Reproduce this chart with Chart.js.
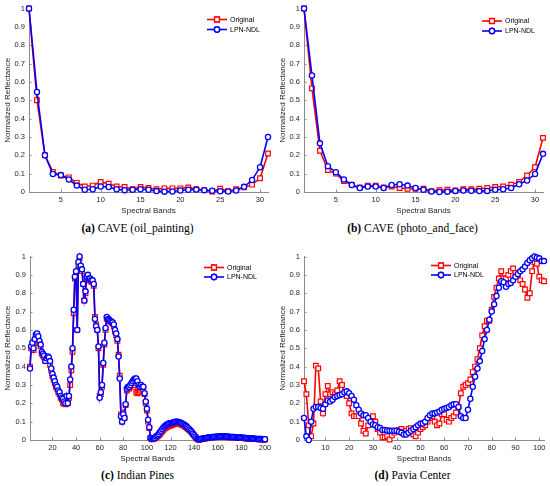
<!DOCTYPE html>
<html>
<head>
<meta charset="utf-8">
<script src="https://cdn.jsdelivr.net/npm/chart.js@4.4.1/dist/chart.umd.min.js"></script>
<style>
  html, body { margin: 0; padding: 0; background: #fff; }
  body { width: 550px; height: 486px; position: relative; overflow: hidden; }
  .panel { position: absolute; width: 275px; height: 220px; }
  .caption {
    position: absolute; width: 275px; text-align: center;
    font-family: "Liberation Serif", "Times New Roman", serif;
    font-size: 11.5px; line-height: 13px; color: #000;
  }
</style>
</head>
<body>
<div class="panel" style="left:0;top:0"><canvas id="chartA" width="275" height="220"></canvas></div>
<div class="panel" style="left:275px;top:0"><canvas id="chartB" width="275" height="220"></canvas></div>
<div class="panel" style="left:0;top:248px"><canvas id="chartC" width="275" height="220"></canvas></div>
<div class="panel" style="left:275px;top:248px"><canvas id="chartD" width="275" height="220"></canvas></div>

<div class="caption" style="left:0;top:222px"><b>(a)</b> CAVE (oil_painting)</div>
<div class="caption" style="left:275px;top:222px"><b>(b)</b> CAVE (photo_and_face)</div>
<div class="caption" style="left:0;top:469px"><b>(c)</b> Indian Pines</div>
<div class="caption" style="left:275px;top:469px"><b>(d)</b> Pavia Center</div>

<script>
// ---- data ----
const seriesNames = ['Original', 'LPN-NDL'];

const yTicks = [0, 0.1, 0.2, 0.3, 0.4, 0.5, 0.6, 0.7, 0.8, 0.9, 1];
const xTicksCave = [5, 10, 15, 20, 25, 30];
const xTicksIndian = [20, 40, 60, 80, 100, 120, 140, 160, 180, 200];
const xTicksPavia = [10, 20, 30, 40, 50, 60, 70, 80, 90, 100];

// (a) CAVE oil_painting, 31 bands
const oilOriginal = [1.0, 0.50, 0.20, 0.11, 0.09, 0.08, 0.05, 0.03, 0.035, 0.055,
  0.045, 0.03, 0.028, 0.015, 0.028, 0.022, 0.015, 0.02, 0.02, 0.02,
  0.025, 0.015, 0.01, 0.003, 0.018, 0.005, 0.015, 0.025, 0.04, 0.075, 0.21];
const oilLpn = [1.0, 0.545, 0.20, 0.098, 0.092, 0.068, 0.035, 0.012, 0.015, 0.03,
  0.027, 0.015, 0.01, 0.012, 0.015, 0.012, 0.005, 0.002, 0.003, 0.008,
  0.012, 0.013, 0.01, 0.007, 0.004, 0.003, 0.008, 0.028, 0.065, 0.135, 0.30];

// (b) CAVE photo_and_face, 31 bands
const photoOriginal = [1.0, 0.565, 0.225, 0.12, 0.10, 0.06, 0.04, 0.025, 0.035, 0.035,
  0.025, 0.03, 0.022, 0.018, 0.018, 0.018, 0.005, 0.01, 0.012, 0.008,
  0.015, 0.015, 0.018, 0.022, 0.028, 0.03, 0.04, 0.055, 0.09, 0.135, 0.295];
const photoLpn = [1.0, 0.635, 0.265, 0.14, 0.108, 0.068, 0.038, 0.022, 0.03, 0.03,
  0.022, 0.038, 0.042, 0.035, 0.022, 0.012, 0.003, 0.0, 0.002, 0.006,
  0.008, 0.007, 0.005, 0.006, 0.012, 0.015, 0.022, 0.042, 0.063, 0.098, 0.208];

// (c) Indian Pines, 200 bands
const indianOriginal = [
  0.40, 0.50, 0.52, 0.49, 0.54, 0.57, 0.56, 0.53, 0.53, 0.51,
  0.47, 0.46, 0.45, 0.43, 0.44, 0.45, 0.44, 0.41, 0.38, 0.35,
  0.33, 0.31, 0.29, 0.28, 0.26, 0.25, 0.23, 0.22, 0.20, 0.20,
  0.195, 0.23, 0.20, 0.23, 0.30, 0.38, 0.48, 0.69, 0.88, 0.91,
  0.60, 0.95, 0.99, 0.94, 0.92, 0.85, 0.76, 0.80, 0.88, 0.89,
  0.87, 0.87, 0.86, 0.86, 0.84, 0.67, 0.63, 0.60, 0.50, 0.24,
  0.25, 0.29, 0.41, 0.52, 0.60, 0.66, 0.66, 0.65, 0.645, 0.64,
  0.635, 0.62, 0.59, 0.57, 0.54, 0.465, 0.35, 0.14, 0.10, 0.15,
  0.12, 0.19, 0.27, 0.28, 0.28, 0.29, 0.30, 0.31, 0.30, 0.31,
  0.26, 0.255, 0.26, 0.27, 0.28, 0.28, 0.275, 0.25, 0.20, 0.16,
  0.10, 0.065, 0.01, 0.004, 0.008, 0.006, 0.01, 0.015, 0.02, 0.026,
  0.033, 0.04, 0.048, 0.055, 0.062, 0.067, 0.071, 0.074, 0.076, 0.078,
  0.081, 0.084, 0.087, 0.089, 0.09, 0.09, 0.089, 0.087, 0.084, 0.081,
  0.078, 0.074, 0.07, 0.065, 0.06, 0.054, 0.047, 0.04, 0.032, 0.025,
  0.017, 0.009, 0.004, 0.002, 0.003, 0.005, 0.006, 0.007, 0.008, 0.009,
  0.01, 0.011, 0.012, 0.013, 0.014, 0.014, 0.015, 0.015, 0.016, 0.016,
  0.016, 0.017, 0.017, 0.017, 0.017, 0.017, 0.016, 0.016, 0.015, 0.015,
  0.015, 0.014, 0.014, 0.013, 0.013, 0.012, 0.012, 0.011, 0.011, 0.01,
  0.01, 0.01, 0.009, 0.009, 0.008, 0.008, 0.007, 0.007, 0.006, 0.006,
  0.006, 0.005, 0.005, 0.005, 0.004, 0.004, 0.004, 0.003, 0.003, 0.003];
const indianLpn = [
  0.39, 0.51, 0.53, 0.50, 0.55, 0.575, 0.58, 0.565, 0.54, 0.52,
  0.48, 0.47, 0.46, 0.43, 0.445, 0.455, 0.45, 0.43, 0.39, 0.36,
  0.34, 0.32, 0.30, 0.29, 0.27, 0.26, 0.24, 0.23, 0.225, 0.21,
  0.20, 0.24, 0.20, 0.24, 0.33, 0.40, 0.50, 0.71, 0.89, 0.92,
  0.60, 0.97, 1.00, 0.95, 0.93, 0.85, 0.76, 0.81, 0.89, 0.90,
  0.88, 0.88, 0.87, 0.87, 0.85, 0.66, 0.62, 0.60, 0.51, 0.23,
  0.26, 0.30, 0.42, 0.53, 0.61, 0.67, 0.66, 0.655, 0.65, 0.645,
  0.64, 0.63, 0.60, 0.58, 0.55, 0.455, 0.335, 0.13, 0.10, 0.14,
  0.12, 0.195, 0.28, 0.29, 0.29, 0.30, 0.31, 0.32, 0.33, 0.335,
  0.335, 0.32, 0.30, 0.29, 0.30, 0.29, 0.29, 0.255, 0.21, 0.17,
  0.11, 0.07, 0.012, 0.005, 0.01, 0.008, 0.012, 0.02, 0.025, 0.033,
  0.042, 0.05, 0.06, 0.068, 0.075, 0.08, 0.085, 0.088, 0.09, 0.091,
  0.093, 0.095, 0.097, 0.10, 0.10, 0.10, 0.098, 0.096, 0.093, 0.09,
  0.086, 0.082, 0.077, 0.071, 0.064, 0.057, 0.05, 0.042, 0.034, 0.026,
  0.018, 0.01, 0.005, 0.003, 0.004, 0.006, 0.008, 0.009, 0.01, 0.011,
  0.012, 0.013, 0.014, 0.015, 0.016, 0.017, 0.017, 0.018, 0.018, 0.019,
  0.019, 0.02, 0.02, 0.02, 0.02, 0.02, 0.019, 0.019, 0.018, 0.018,
  0.017, 0.017, 0.016, 0.016, 0.015, 0.015, 0.014, 0.014, 0.013, 0.013,
  0.012, 0.012, 0.011, 0.011, 0.01, 0.01, 0.009, 0.009, 0.008, 0.008,
  0.007, 0.007, 0.006, 0.006, 0.005, 0.005, 0.005, 0.004, 0.004, 0.004];

// (d) Pavia Center, 102 bands
const paviaOriginal = [
  0.32, 0.25, 0.08, 0.02, 0.09, 0.405, 0.39, 0.21, 0.145, 0.25,
  0.295, 0.25, 0.26, 0.25, 0.27, 0.32, 0.30, 0.25, 0.24, 0.20,
  0.145, 0.13, 0.13, 0.13, 0.09, 0.05, 0.035, 0.08, 0.12, 0.13,
  0.10, 0.06, 0.04, 0.015, 0.015, 0.02, 0.003, 0.025, 0.04, 0.05,
  0.055, 0.06, 0.045, 0.05, 0.06, 0.065, 0.03, 0.02, 0.04, 0.06,
  0.07, 0.08, 0.10, 0.12, 0.13, 0.10, 0.08, 0.09, 0.14, 0.14,
  0.11, 0.10, 0.12, 0.13, 0.15, 0.18, 0.255, 0.29, 0.30, 0.31,
  0.33, 0.37, 0.40, 0.44, 0.50, 0.57, 0.62, 0.65, 0.65, 0.71,
  0.78, 0.83, 0.88, 0.92, 0.88, 0.88, 0.90, 0.92, 0.935, 0.91,
  0.90, 0.87, 0.85, 0.82, 0.775, 0.80, 0.92, 0.97, 0.96, 0.89,
  0.87, 0.865];
const paviaLpn = [
  0.12, 0.02, 0.0, 0.10, 0.17, 0.18, 0.18, 0.175, 0.17, 0.195,
  0.215, 0.21, 0.22, 0.235, 0.24, 0.245, 0.25, 0.26, 0.265, 0.255,
  0.24, 0.22, 0.19, 0.165, 0.145, 0.135, 0.135, 0.12, 0.10, 0.085,
  0.08, 0.07, 0.065, 0.055, 0.055, 0.052, 0.05, 0.05, 0.05, 0.05,
  0.045, 0.04, 0.03, 0.03, 0.04, 0.05, 0.06, 0.07, 0.08, 0.09,
  0.09, 0.10, 0.12, 0.135, 0.145, 0.145, 0.15, 0.155, 0.165, 0.17,
  0.175, 0.18, 0.19, 0.195, 0.195, 0.18, 0.13, 0.12, 0.12, 0.165,
  0.225, 0.29, 0.345, 0.39, 0.43, 0.485, 0.55, 0.60, 0.655, 0.70,
  0.74, 0.785, 0.83, 0.865, 0.86, 0.835, 0.85, 0.855, 0.87, 0.89,
  0.905, 0.92, 0.93, 0.945, 0.965, 0.98, 0.99, 1.0, 0.995, 0.99,
  0.975, 0.975];

// ---- styling ----
const RED = '#ff0000';
const BLUE = '#0000ff';
const AXIS_COLOR = '#8c8c8c';
const TEXT_COLOR = '#262626';
const SANS = '"Liberation Sans", Arial, Helvetica, sans-serif';

// MATLAB style inward tick marks
const inwardTicks = {
  id: 'inwardTicks',
  beforeDatasetsDraw(chart) {
    const ctx = chart.ctx;
    const area = chart.chartArea;
    const xs = chart.scales.x, ys = chart.scales.y;
    ctx.save();
    ctx.strokeStyle = AXIS_COLOR;
    ctx.lineWidth = 1;
    ctx.beginPath();
    xs.ticks.forEach(t => {
      const px = Math.round(xs.getPixelForValue(t.value)) + 0.5;
      ctx.moveTo(px, area.bottom);
      ctx.lineTo(px, area.bottom - 2.5);
    });
    ys.ticks.forEach(t => {
      const py = Math.round(ys.getPixelForValue(t.value)) + 0.5;
      ctx.moveTo(area.left, py);
      ctx.lineTo(area.left + 2.5, py);
    });
    ctx.stroke();
    ctx.restore();
  }
};

// legend drawn inside the axes, line + marker like MATLAB
const insetLegend = {
  id: 'insetLegend',
  afterDraw(chart, args, opts) {
    const ctx = chart.ctx;
    ctx.save();
    ctx.font = '7px ' + SANS;
    ctx.textBaseline = 'middle';
    ctx.fillStyle = '#000';
    chart.data.datasets.forEach((ds, i) => {
      const y = opts.y + i * opts.gap;
      ctx.strokeStyle = ds.borderColor;
      ctx.lineWidth = 1.6;
      ctx.beginPath();
      ctx.moveTo(opts.x, y);
      ctx.lineTo(opts.x + 20, y);
      ctx.stroke();
      Chart.helpers.drawPoint(ctx, {
        pointStyle: ds.pointStyle,
        radius: ds.pointRadius,
        borderWidth: ds.pointBorderWidth
      }, opts.x + 10, y);
      ctx.fillStyle = '#fff';
      ctx.strokeStyle = ds.borderColor;
      ctx.lineWidth = ds.pointBorderWidth;
      ctx.fill();
      ctx.stroke();
      ctx.fillStyle = '#000';
      ctx.fillText(ds.label, opts.x + 23, y + 0.5);
    });
    ctx.restore();
  }
};

function toPoints(values) {
  return values.map((v, i) => ({ x: i + 1, y: v }));
}

function makeChart(id, original, lpn, xTicks, xMax, area, legend) {
  const ctx = document.getElementById(id).getContext('2d');
  return new Chart(ctx, {
    type: 'line',
    data: {
      datasets: [{
        label: seriesNames[0],
        data: toPoints(original),
        borderColor: RED,
        backgroundColor: '#fff',
        borderWidth: 1.6,
        pointStyle: 'rect',
        pointRadius: 3.3,
        pointBorderWidth: 1.2,
        pointBackgroundColor: '#fff',
        pointBorderColor: RED,
        tension: 0,
        clip: false,
        order: 1
      }, {
        label: seriesNames[1],
        data: toPoints(lpn),
        borderColor: BLUE,
        backgroundColor: '#fff',
        borderWidth: 1.6,
        pointStyle: 'circle',
        pointRadius: 2.6,
        pointBorderWidth: 1.3,
        pointBackgroundColor: '#fff',
        pointBorderColor: BLUE,
        tension: 0,
        clip: false,
        order: 0
      }]
    },
    options: {
      responsive: false,
      animation: false,
      events: [],
      layout: {
        padding: { left: 0, right: 275 - area.right, top: 8, bottom: 0 }
      },
      scales: {
        x: {
          type: 'linear',
          min: 1,
          max: xMax,
          afterBuildTicks: s => { s.ticks = xTicks.map(v => ({ value: v })); },
          afterFit: s => { s.height = 28; },
          grid: { display: false, drawTicks: false },
          border: { display: true, color: AXIS_COLOR, width: 1 },
          ticks: {
            color: TEXT_COLOR,
            font: { family: SANS, size: 7.5 },
            padding: 3,
            maxRotation: 0,
            autoSkip: false
          },
          title: {
            display: true,
            text: 'Spectral Bands',
            color: TEXT_COLOR,
            font: { family: SANS, size: 8 },
            padding: { top: 0, bottom: 4 }
          }
        },
        y: {
          min: 0,
          max: 1,
          afterBuildTicks: s => { s.ticks = yTicks.map(v => ({ value: v })); },
          afterFit: s => { s.width = area.left; },
          grid: { display: false, drawTicks: false },
          border: { display: true, color: AXIS_COLOR, width: 1 },
          ticks: {
            color: TEXT_COLOR,
            font: { family: SANS, size: 7.5 },
            padding: 4,
            callback: v => String(Math.round(v * 10) / 10)
          },
          title: {
            display: true,
            text: 'Normalized Reflectance',
            color: TEXT_COLOR,
            font: { family: SANS, size: 8 },
            padding: { top: 3, bottom: 0 }
          }
        }
      },
      plugins: {
        legend: { display: false },
        tooltip: { enabled: false },
        insetLegend: legend
      }
    },
    plugins: [inwardTicks, insetLegend]
  });
}

makeChart('chartA', oilOriginal, oilLpn, xTicksCave, 31, { left: 29, right: 268 }, { x: 207, y: 19.5, gap: 10 });
makeChart('chartB', photoOriginal, photoLpn, xTicksCave, 31, { left: 29, right: 268 }, { x: 207, y: 21, gap: 10 });
makeChart('chartC', indianOriginal, indianLpn, xTicksIndian, 200, { left: 30, right: 265 }, { x: 204, y: 19.5, gap: 9.5 });
makeChart('chartD', paviaOriginal, paviaLpn, xTicksPavia, 102, { left: 29, right: 269 }, { x: 156, y: 17.5, gap: 9.5 });
</script>
</body>
</html>
